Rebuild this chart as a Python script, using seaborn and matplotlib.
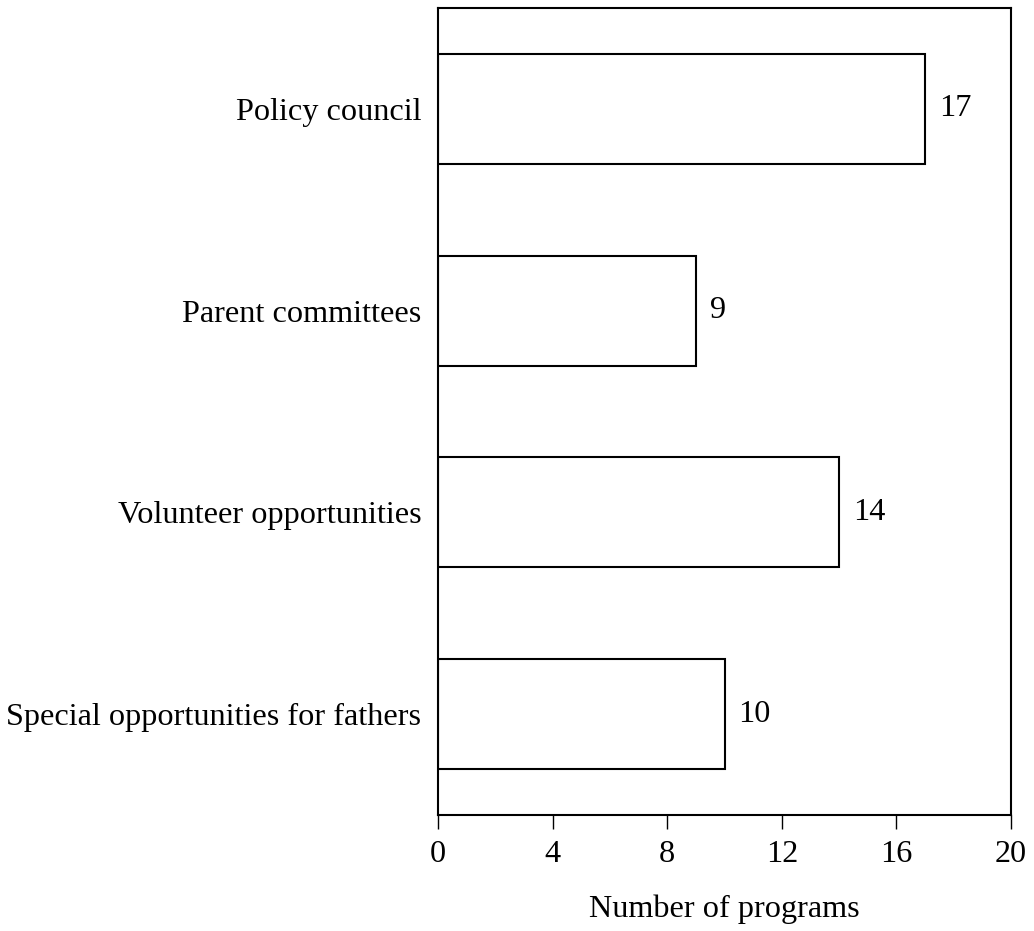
import matplotlib
matplotlib.use("Agg")
import matplotlib.pyplot as plt
import seaborn as sns
import pandas as pd

categories = ["Policy council", "Parent committees", "Volunteer opportunities",
              "Special opportunities for fathers"]
values = [17, 9, 14, 10]
xticks = [0, 4, 8, 12, 16, 20]

sns.set_theme(style="white")
plt.rcParams['font.family'] = ['Liberation Serif', 'DejaVu Serif']

FS = 23.2
df = pd.DataFrame({"category": categories, "value": values})

fig = plt.figure(figsize=(10.34, 9.31), dpi=100)
ax = fig.add_axes([438/1034, 1 - 815/931, (1011-438)/1034, (815-8)/931])
sns.barplot(data=df, x="value", y="category", orient="h", ax=ax,
            color="white", edgecolor="black", linewidth=1.5, width=0.545)
for c in ax.containers:
    ax.bar_label(c, labels=[str(v) for v in values], padding=10, fontsize=FS, color="black")

ax.set_xlim(0, 20)
ax.set_ylim(3.5, -0.5)
ax.set_xticks(xticks)
ax.set_xticklabels([str(t) for t in xticks], fontsize=FS, color="black")
ax.tick_params(axis="x", bottom=True, direction="out", length=10, width=1.0,
               colors="black", pad=8)
ax.tick_params(axis="y", left=False, length=0, pad=12, labelsize=FS, labelcolor="black")
ax.set_ylabel("")
ax.set_xlabel("Number of programs", fontsize=FS, color="black", labelpad=18)
for s in ax.spines.values():
    s.set_visible(True)
    s.set_color("black")
    s.set_linewidth(1.5)
fig.savefig("out.png", dpi=100)
